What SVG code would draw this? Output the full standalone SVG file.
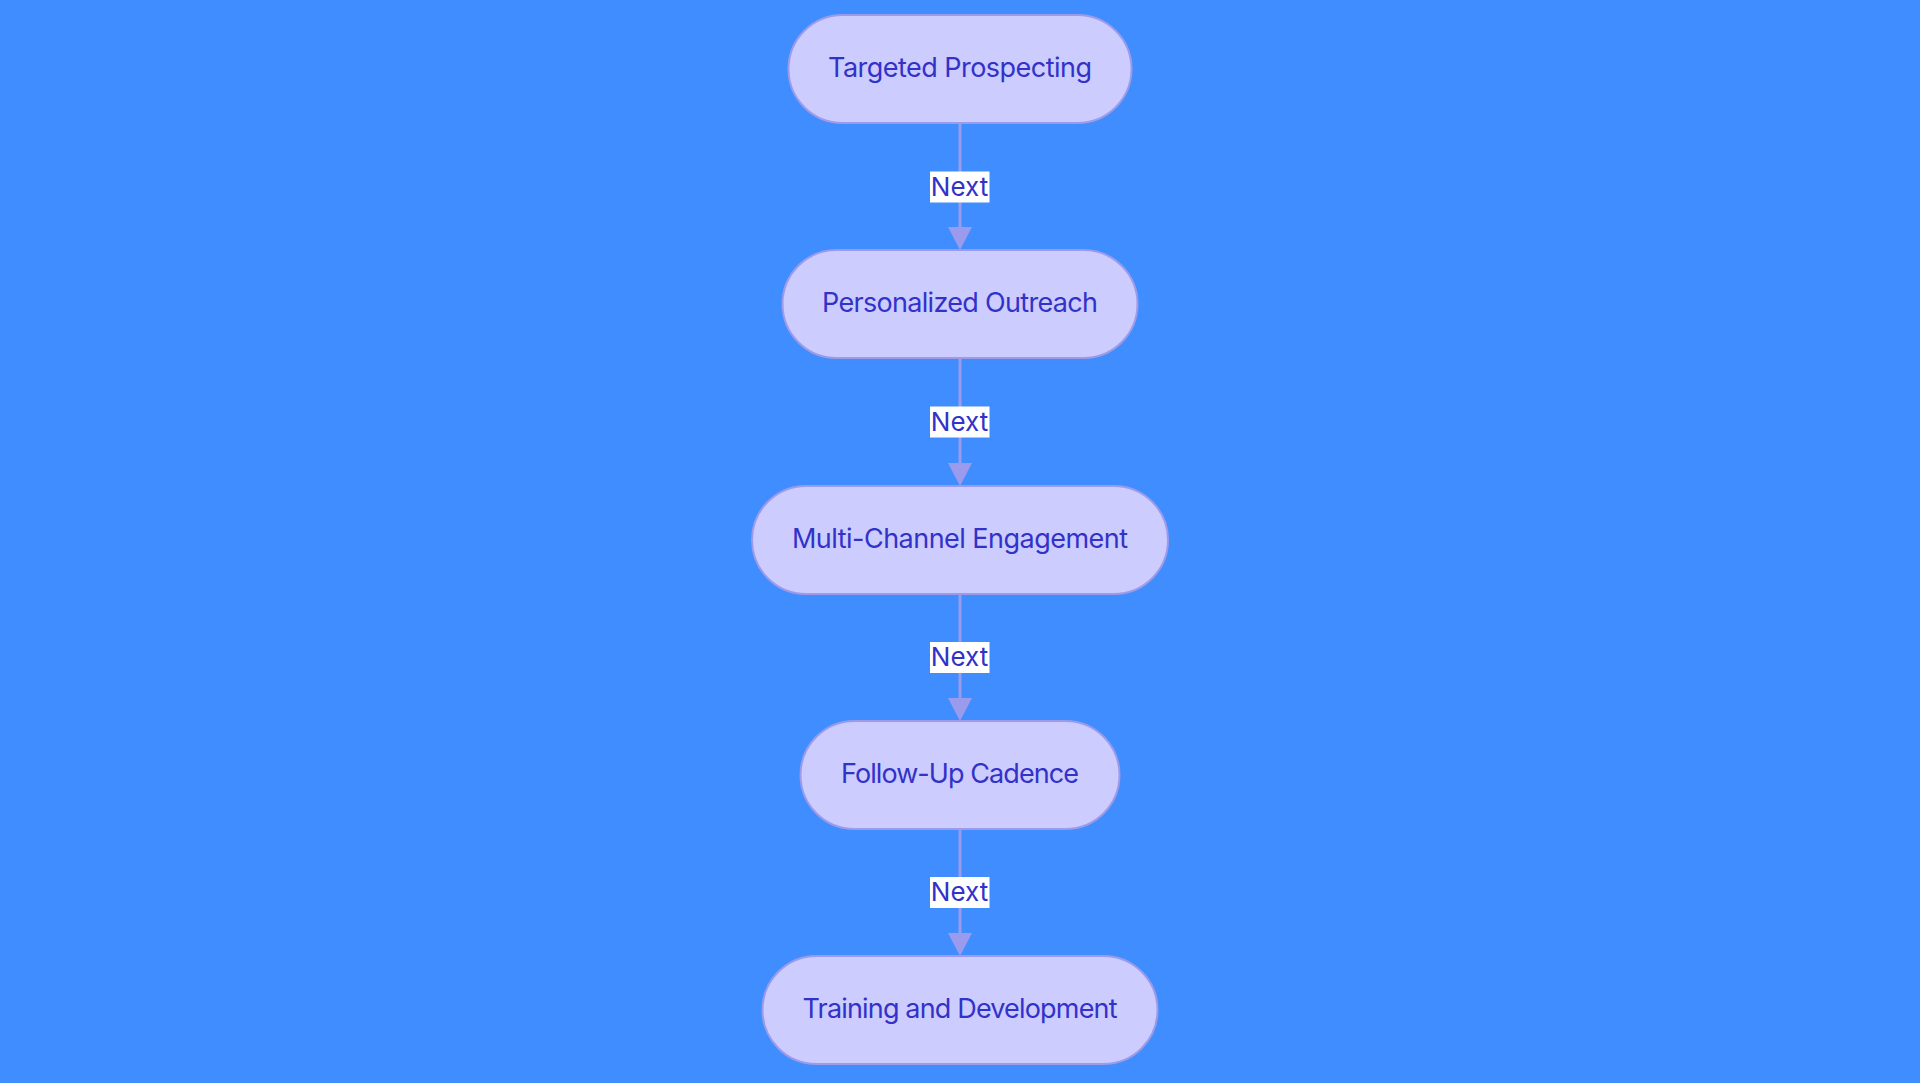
<svg xmlns="http://www.w3.org/2000/svg" width="1920" height="1083" viewBox="0 0 1920 1083">
<style>
.bg{fill:#408dff}
.node rect{fill:#ccccff;stroke:#9b9bea;stroke-width:2}
.node text{font-family:Inter,"Noto Sans",sans-serif;font-size:27px;fill:#3232c9;text-anchor:middle}
.edge{stroke:#9b9bee;stroke-width:3;fill:none}
.lbl rect{fill:#ffffff}
.lbl text{font-family:Inter,"Noto Sans",sans-serif;font-size:26px;fill:#3232c9;text-anchor:middle}
</style>
<defs>
<marker id="arr" markerUnits="userSpaceOnUse" markerWidth="26" markerHeight="24" refX="12" refY="23" orient="auto-start-reverse" viewBox="0 0 24 24">
<path d="M0,0 L24,0 L12,23 Z" fill="#9b9bee"/>
</marker>
</defs>
<rect class="bg" x="0" y="0" width="1920" height="1083"/>
<g id="connectors">
<line class="edge" x1="960" y1="123" x2="960" y2="230"/>
<path d="M948,227 L972,227 L960,250 Z" fill="#9b9bee"/>
<line class="edge" x1="960" y1="358" x2="960" y2="466"/>
<path d="M948,463 L972,463 L960,486 Z" fill="#9b9bee"/>
<line class="edge" x1="960" y1="594" x2="960" y2="701"/>
<path d="M948,698 L972,698 L960,721 Z" fill="#9b9bee"/>
<line class="edge" x1="960" y1="829" x2="960" y2="936"/>
<path d="M948,933 L972,933 L960,956 Z" fill="#9b9bee"/>
<g class="lbl"><rect x="930" y="171.5" width="59.5" height="31"/><text x="959.5" y="195.5">Next</text></g>
<g class="lbl"><rect x="930" y="406.5" width="59.5" height="31"/><text x="959.5" y="430.5">Next</text></g>
<g class="lbl"><rect x="930" y="642" width="59.5" height="31"/><text x="959.5" y="666">Next</text></g>
<g class="lbl"><rect x="930" y="877" width="59.5" height="31"/><text x="959.5" y="901">Next</text></g>
</g>
<g id="n1" class="node"><rect x="788.5" y="15" width="343" height="108" rx="54" ry="54"/><text x="960" y="77" textLength="264">Targeted Prospecting</text></g>
<g id="n2" class="node"><rect x="782.5" y="250" width="355" height="108" rx="54" ry="54"/><text x="960" y="312" textLength="276">Personalized Outreach</text></g>
<g id="n3" class="node"><rect x="752" y="486" width="416" height="108" rx="54" ry="54"/><text x="960" y="548" textLength="336">Multi-Channel Engagement</text></g>
<g id="n4" class="node"><rect x="800.5" y="721" width="319" height="108" rx="54" ry="54"/><text x="960" y="783" textLength="238">Follow-Up Cadence</text></g>
<g id="n5" class="node"><rect x="762.5" y="956" width="395" height="108" rx="54" ry="54"/><text x="960" y="1018" textLength="315">Training and Development</text></g>
</svg>
